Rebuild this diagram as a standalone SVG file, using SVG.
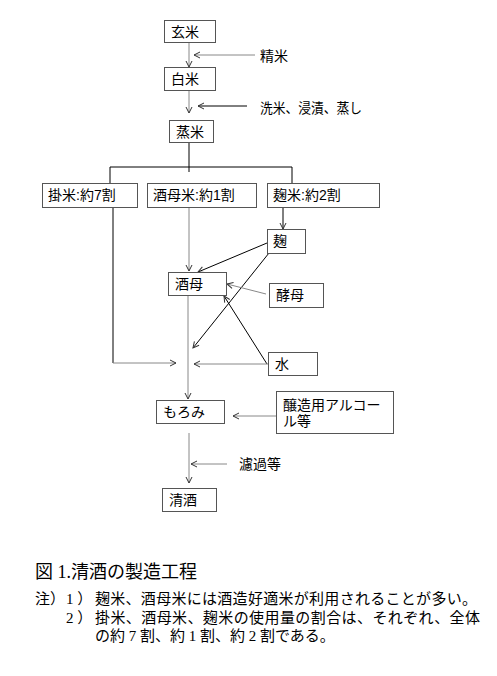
<svg xmlns="http://www.w3.org/2000/svg" width="497" height="676" viewBox="0 0 497 676">
<style>
.box{fill:#fff;stroke:#555;stroke-width:1}
.t{font-family:"Liberation Sans","Noto Sans CJK JP",sans-serif;font-size:14px;fill:#000}
.lb{font-family:"Liberation Sans","Noto Sans CJK JP",sans-serif;font-size:14px;fill:#000}
.ln{stroke:#000;stroke-width:1;fill:none}
.lg{stroke:#888;stroke-width:1;fill:none}
.cap{font-family:"Liberation Serif","Noto Sans CJK JP",serif;fill:#000}
</style>
<defs>
<marker id="a" viewBox="0 0 8 8" refX="7" refY="4" markerWidth="8" markerHeight="8" markerUnits="userSpaceOnUse" orient="auto">
<path d="M1,1 L7,4 L1,7" fill="none" stroke="#333" stroke-width="1"/>
</marker>
</defs>
<rect width="497" height="676" fill="#fff"/>
<g id="connectors">
<line class="lg" x1="189" y1="42" x2="189" y2="67" marker-end="url(#a)"/>
<line class="lg" x1="255" y1="55" x2="194" y2="55" marker-end="url(#a)"/>
<line class="lg" x1="189" y1="91" x2="189" y2="113" marker-end="url(#a)"/>
<line class="ln" x1="247" y1="106" x2="198" y2="106" marker-end="url(#a)"/>
<line class="ln" x1="189" y1="142" x2="189" y2="172"/>
<polyline class="ln" points="110,183 110,167 292,167 292,183"/>
<polyline class="ln" points="113,207 113,363"/>
<line class="lg" x1="113" y1="363" x2="176" y2="363" marker-end="url(#a)"/>
<line class="lg" x1="189" y1="207" x2="189" y2="271" marker-end="url(#a)"/>
<line class="ln" x1="283" y1="207" x2="283" y2="229" marker-end="url(#a)"/>
<line class="ln" x1="267" y1="243" x2="198" y2="272" marker-end="url(#a)"/>
<line class="ln" x1="269" y1="253" x2="193" y2="348" marker-end="url(#a)"/>
<line class="lg" x1="266" y1="294" x2="227" y2="284" marker-end="url(#a)"/>
<line class="ln" x1="267" y1="364" x2="224" y2="296" marker-end="url(#a)"/>
<line class="lg" x1="268" y1="364" x2="194" y2="364" marker-end="url(#a)"/>
<line class="lg" x1="188" y1="296" x2="188" y2="399" marker-end="url(#a)"/>
<line class="lg" x1="276" y1="416" x2="233" y2="416" marker-end="url(#a)"/>
<line class="lg" x1="189" y1="433" x2="189" y2="483" marker-end="url(#a)"/>
<line class="lg" x1="227" y1="464" x2="191" y2="464" marker-end="url(#a)"/>
</g>
<g id="n_genmai"><rect class="box" x="164.5" y="20.5" width="51" height="22"/><text class="t" x="171" y="37">玄米</text></g>
<g id="n_seimai_label"><text class="lb" x="260" y="61">精米</text></g>
<g id="n_hakumai"><rect class="box" x="164.5" y="67.5" width="51" height="23"/><text class="t" x="171" y="84">白米</text></g>
<g id="n_senmai_label"><text class="lb" x="260" y="113" textLength="102" lengthAdjust="spacingAndGlyphs">洗米、浸漬、蒸し</text></g>
<g id="n_mushimai"><rect class="box" x="169.5" y="120.5" width="44" height="22"/><text class="t" x="176" y="137">蒸米</text></g>
<g id="n_kakemai"><rect class="box" x="42.5" y="183.5" width="95" height="24"/><text class="t" x="48" y="200">掛米:約7割</text></g>
<g id="n_shubomai"><rect class="box" x="147.5" y="183.5" width="109" height="24"/><text class="t" x="153" y="200">酒母米:約1割</text></g>
<g id="n_kojimai"><rect class="box" x="267.5" y="183.5" width="112" height="24"/><text class="t" x="273" y="200">麹米:約2割</text></g>
<g id="n_koji"><rect class="box" x="267.5" y="229.5" width="38" height="24"/><text class="t" x="273" y="246">麹</text></g>
<g id="n_shubo"><rect class="box" x="168.5" y="272.5" width="58" height="23"/><text class="t" x="175" y="289">酒母</text></g>
<g id="n_koubo"><rect class="box" x="269.5" y="283.5" width="54" height="24"/><text class="t" x="276" y="300">酵母</text></g>
<g id="n_mizu"><rect class="box" x="268.5" y="352.5" width="49" height="23"/><text class="t" x="275" y="369">水</text></g>
<g id="n_moromi"><rect class="box" x="156.5" y="400.5" width="68" height="23"/><text class="t" x="163" y="417">もろみ</text></g>
<g id="n_alcohol"><rect class="box" x="276.5" y="391.5" width="117" height="42"/><text class="t" x="283" y="410">醸造用アルコー</text><text class="t" x="283" y="426">ル等</text></g>
<g id="n_roka_label"><text class="lb" x="239" y="469">濾過等</text></g>
<g id="n_seishu"><rect class="box" x="162.5" y="488.5" width="54" height="23"/><text class="t" x="169" y="505">清酒</text></g>
<g id="caption">
<text class="cap" x="35" y="578" font-size="18">図 1.清酒の製造工程</text>
<text class="cap" x="35" y="604" font-size="15">注）</text>
<text class="cap" x="66" y="604" font-size="15">1 ）</text>
<text class="cap" x="95" y="604" font-size="15" textLength="382" lengthAdjust="spacing">麹米、酒母米には酒造好適米が利用されることが多い。</text>
<text class="cap" x="66" y="623" font-size="15">2 ）</text>
<text class="cap" x="95" y="623" font-size="15" textLength="385" lengthAdjust="spacing">掛米、酒母米、麹米の使用量の割合は、それぞれ、全体</text>
<text class="cap" x="95" y="641" font-size="15">の約 7 割、約 1 割、約 2 割である。</text>
</g>
</svg>
